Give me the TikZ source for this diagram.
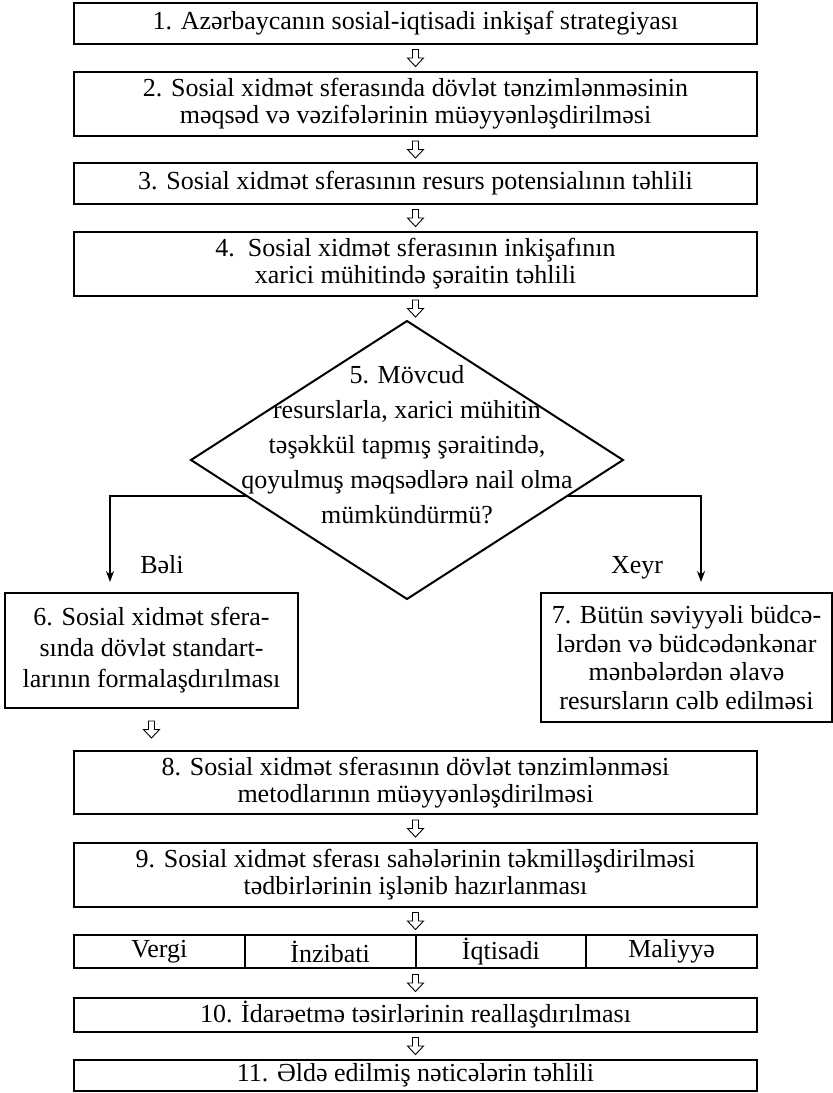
\documentclass[tikz,border=0pt]{standalone}
\usepackage{fontspec}
\setmainfont{Liberation Serif}
\usetikzlibrary{arrows.meta,positioning,shapes.geometric,calc}

\newcommand{\hollowarrow}[2]{%
  \coordinate (m) at ($(#1)!0.5!(#1 |- #2)$);
  \draw[hollow] (m) ++(-3,-8.5) -- ++(6,0) -- ++(0,8.5) -- ++(5,0) -- ++(-8,8.5) -- ++(-8,-8.5) -- ++(5,0) -- cycle;}

\begin{document}
\begin{tikzpicture}[
    x=1pt, y=-1pt,
    every node/.style={font=\fontsize{26}{27}\selectfont},
    box/.style={draw, line width=2pt, align=center, minimum width=683pt, inner sep=0pt, outer sep=0pt},
    cell/.style={draw, line width=2pt, minimum width=170.75pt, minimum height=33pt, inner sep=0pt, outer sep=0pt},
    decision/.style={draw, diamond, line width=2pt, minimum width=432pt, minimum height=278pt, inner sep=0pt, outer sep=0pt},
    hollow/.style={draw, line width=0.9pt, fill=white},
    branch/.style={-{Stealth[length=11pt,width=8pt]}, line width=2pt, shorten >=11pt}
]
\useasboundingbox (0,0) rectangle (833,1093);
\node[box, minimum height=41pt] (b1) at (415.5,23.5) {1. Azərbaycanın sosial-iqtisadi inkişaf strategiyası};
\node[box, minimum height=64pt, below=28pt of b1] (b2) {2. Sosial xidmət sferasında dövlət tənzimlənməsinin\\məqsəd və vəzifələrinin müəyyənləşdirilməsi};
\node[box, minimum height=41pt, below=27pt of b2] (b3) {3. Sosial xidmət sferasının resurs potensialının təhlili};
\node[box, minimum height=64pt, below=28pt of b3] (b4) {4.~~Sosial xidmət sferasının inkişafının\\xarici mühitində şəraitin təhlili};
\node[decision, label={[yshift=15pt, align=center, font=\fontsize{26}{35}\selectfont]center:{5. Mövcud\\resurslarla, xarici mühitin\\təşəkkül tapmış şəraitində,\\qoyulmuş məqsədlərə nail olma\\mümkündürmü?}}] (d5) at (407,460) {};
\node[box, minimum width=293pt, minimum height=115pt, font=\fontsize{26}{31}\selectfont] (b6) at (151.5,650.5) {6. Sosial xidmət sfera-\\sında dövlət standart-\\larının formalaşdırılması};
\node[box, minimum width=291pt, minimum height=129pt, font=\fontsize{26}{28.5}\selectfont] (b7) at (686.5,657.5) {7. Bütün səviyyəli büdcə-\\lərdən və büdcədənkənar\\mənbələrdən əlavə\\resursların cəlb edilməsi};
\node[box, minimum height=63pt] (b8) at (415.5,782.5) {8. Sosial xidmət sferasının dövlət tənzimlənməsi\\metodlarının müəyyənləşdirilməsi};
\node[box, minimum height=64pt, below=29pt of b8] (b9) {9. Sosial xidmət sferası sahələrinin təkmilləşdirilməsi\\tədbirlərinin işlənib hazırlanması};
\node[cell, anchor=north west] (vergi) at ([yshift=-28pt]b9.south west) {Vergi};
\node[cell, right=0pt of vergi] (inzibati) {İnzibati};
\node[cell, right=0pt of inzibati] (iqtisadi) {İqtisadi};
\node[cell, right=0pt of iqtisadi] (maliyye) {Maliyyə};
\node[box, minimum height=34pt, below=30pt of inzibati.south east] (b10) {10. İdarəetmə təsirlərinin reallaşdırılması};
\node[box, minimum height=31pt, below=28pt of b10] (b11) {11. Əldə edilmiş nəticələrin təhlili};
\node[anchor=base] (yes) at (162,573) {Bəli};
\node[anchor=base] (no) at (637,573) {Xeyr};
\hollowarrow{b1.south}{b2.north}
\hollowarrow{b2.south}{b3.north}
\hollowarrow{b3.south}{b4.north}
\hollowarrow{b4.south}{d5.north}
\hollowarrow{b6.south}{b8.north}
\hollowarrow{b8.south}{b9.north}
\hollowarrow{b9.south}{inzibati.north east}
\hollowarrow{inzibati.south east}{b10.north}
\hollowarrow{b10.south}{b11.north}
\draw[branch] ($(d5.west)!0.26!(d5.south)$) -| ([xshift=-41.5pt]b6.north);
\draw[branch] ($(d5.east)!0.26!(d5.south)$) -| ([xshift=14.5pt]b7.north);
\end{tikzpicture}
\end{document}
